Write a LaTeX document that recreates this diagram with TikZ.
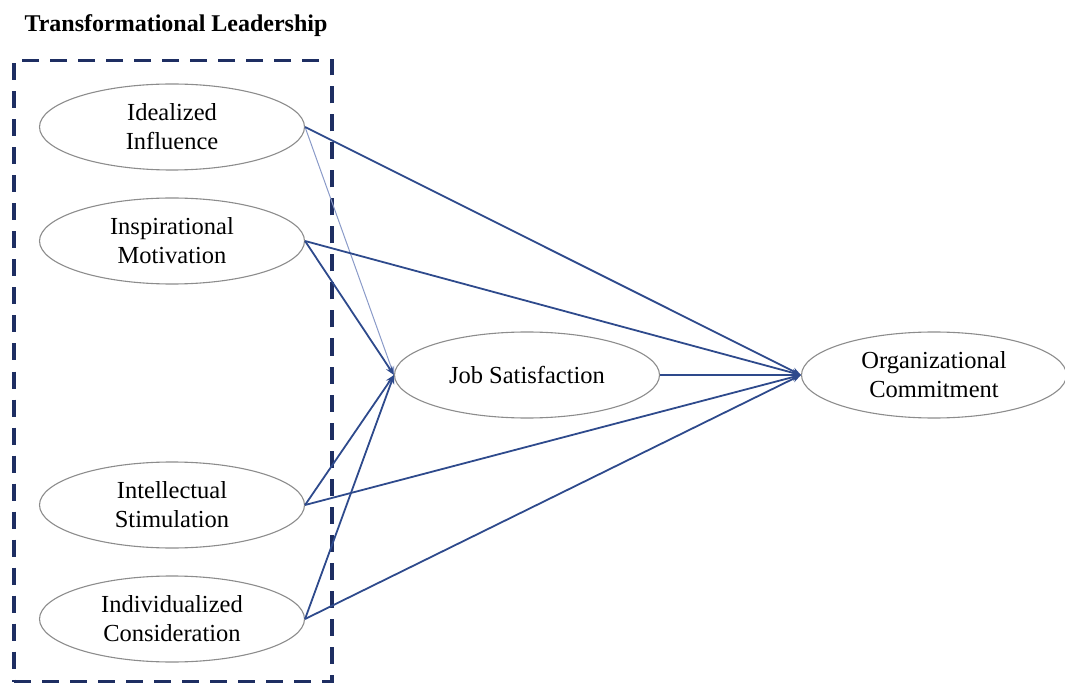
\documentclass[tikz,border=0pt]{standalone}
\usepackage{fontspec}
\setmainfont{Liberation Serif}
\usetikzlibrary{shapes.geometric,arrows.meta}
\definecolor{navy}{HTML}{1E2E62}
\definecolor{lineblue}{HTML}{2E4A8C}
\definecolor{lightblue}{HTML}{8A9AC8}
\definecolor{ellgray}{HTML}{8C8C8C}
\tikzset{
  construct/.style={ellipse, draw=ellgray, line width=1.1pt, minimum width=265pt, minimum height=86pt, inner sep=0pt, align=center, font=\fontsize{24.5}{29}\selectfont},
  path/.style={draw=lineblue, line width=1.8pt, -{Stealth[length=9pt,width=7pt]}},
  thinpath/.style={draw=lightblue, line width=1pt, -{Stealth[length=9pt,width=7pt]}},
  groupbox/.style={draw=navy, line width=3.6pt, dash pattern=on 17pt off 11pt}
}
\begin{document}
\begin{tikzpicture}[x=1pt,y=-1pt]
\useasboundingbox (0,0) rectangle (1065,684);
\node[font=\fontsize{24}{28}\selectfont\bfseries] (title) at (176,26) {Transformational Leadership};
\node[groupbox, minimum width=318pt, minimum height=621pt, inner sep=0pt] (box) at (173,371) {};
\node[construct] (ii) at (172,127) {Idealized\\Influence};
\node[construct] (im) at (172,241) {Inspirational\\Motivation};
\node[construct] (is) at (172,505) {Intellectual\\Stimulation};
\node[construct] (ic) at (172,619) {Individualized\\Consideration};
\node[construct] (js) at (527,375) {Job Satisfaction};
\node[construct] (oc) at (934,375) {Organizational\\Commitment};
\draw[thinpath] (ii.east) -- (js.west);
\draw[path] (im.east) -- (js.west);
\draw[path] (is.east) -- (js.west);
\draw[path] (ic.east) -- (js.west);
\draw[path] (ii.east) -- (oc.west);
\draw[path] (im.east) -- (oc.west);
\draw[path] (js.east) -- (oc.west);
\draw[path] (is.east) -- (oc.west);
\draw[path] (ic.east) -- (oc.west);
\end{tikzpicture}
\end{document}
